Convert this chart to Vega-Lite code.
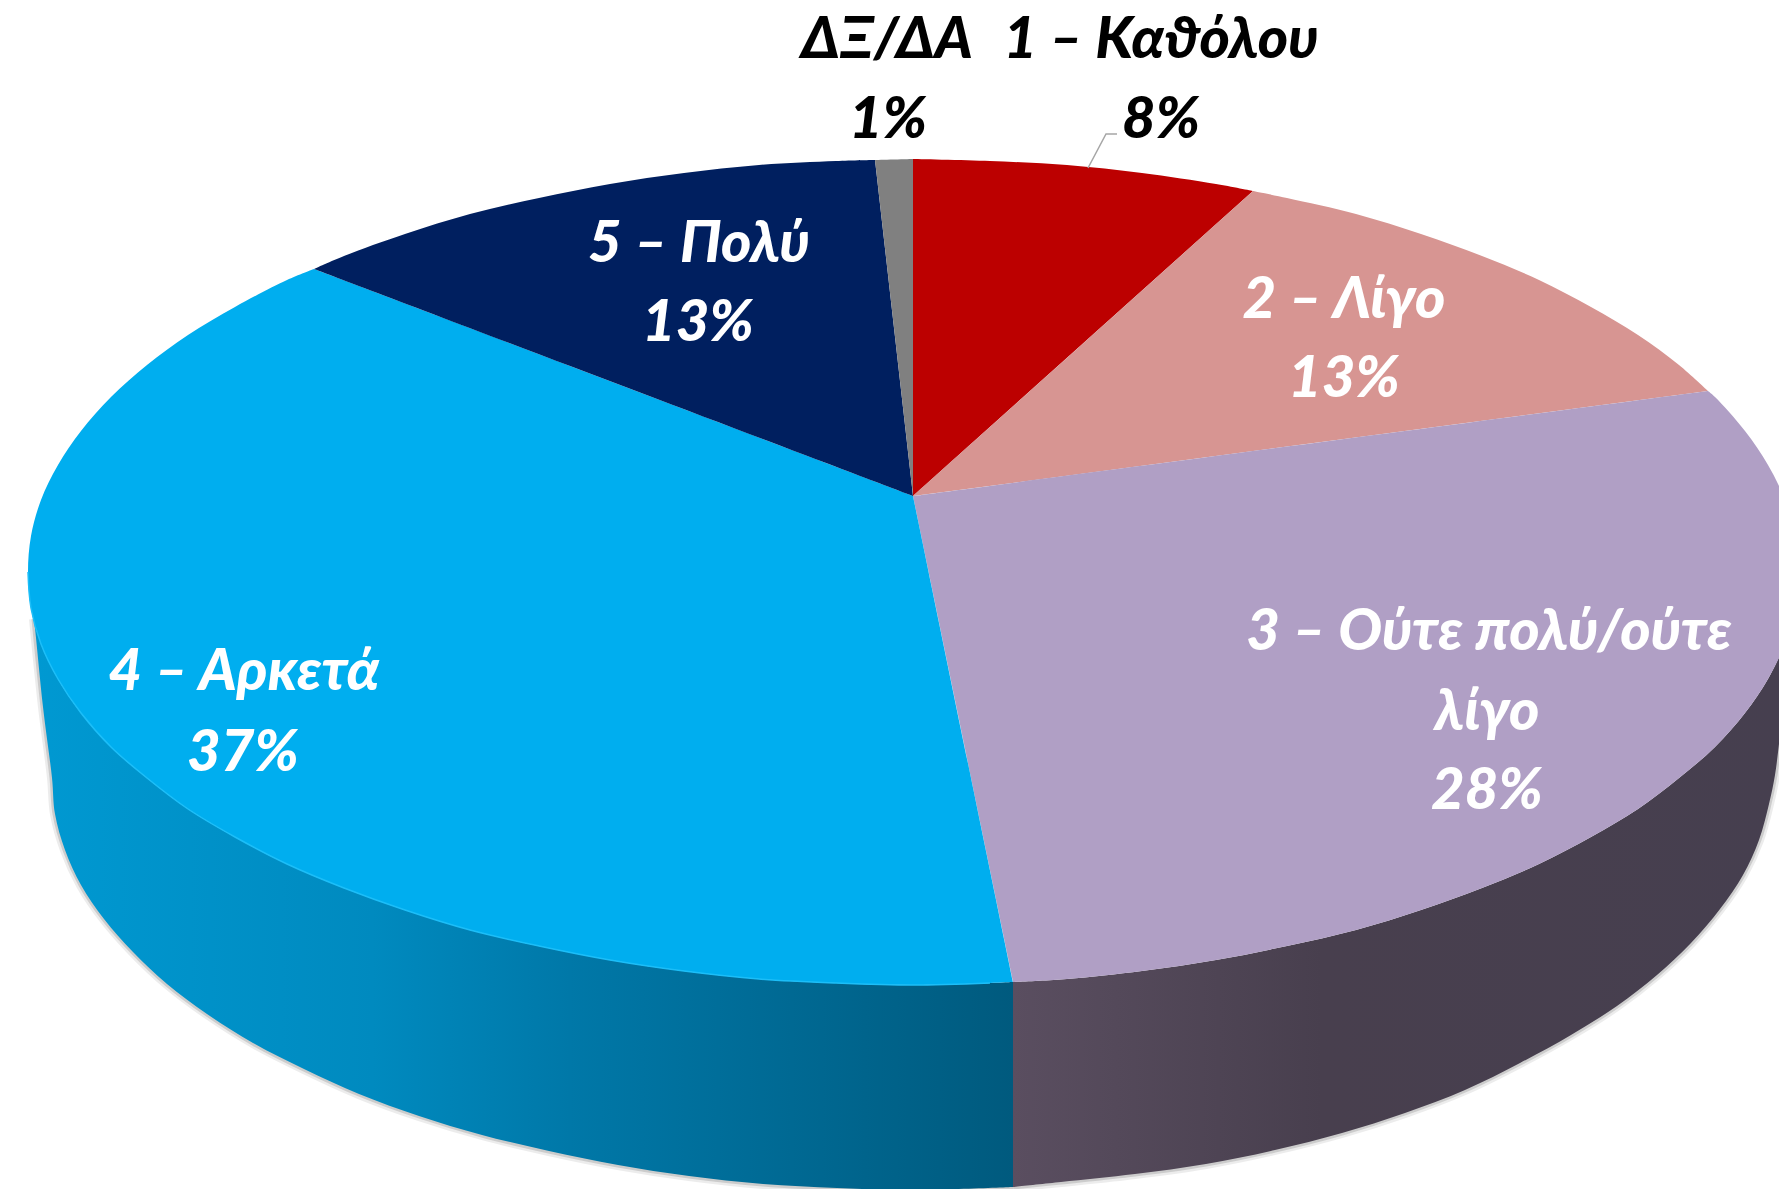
{"$schema":"https://vega.github.io/schema/vega-lite/v6.json","width":1779,"height":1189,"autosize":{"type":"fit","contains":"padding"},"padding":0,"background":"white","view":{"stroke":null},
"datasets":{"side":[
{"slice":"4","i":0,"x":1013,"y":982},{"slice":"4","i":0,"x":1013,"y":982},{"slice":"4","i":1,"x":990,"y":983},{"slice":"4","i":2,"x":913,"y":985},{"slice":"4","i":3,"x":836,"y":983},{"slice":"4","i":4,"x":759,"y":979},{"slice":"4","i":5,"x":684,"y":971},{"slice":"4","i":6,"x":610,"y":960},{"slice":"4","i":7,"x":539,"y":946},{"slice":"4","i":8,"x":470,"y":930},{"slice":"4","i":9,"x":405,"y":910},{"slice":"4","i":10,"x":344,"y":888},{"slice":"4","i":11,"x":287,"y":864},{"slice":"4","i":12,"x":235,"y":837},{"slice":"4","i":13,"x":188,"y":809},{"slice":"4","i":14,"x":147,"y":778},{"slice":"4","i":15,"x":111,"y":747},{"slice":"4","i":16,"x":81,"y":713},{"slice":"4","i":17,"x":58,"y":679},{"slice":"4","i":18,"x":41,"y":644},{"slice":"4","i":19,"x":31,"y":608},{"slice":"4","i":20,"x":28,"y":572},{"slice":"4","i":20,"x":28,"y":572},
{"slice":"4","part":"lower","i":21,"x":34,"y":619},{"slice":"4","part":"lower","i":22,"x":43,"y":707},{"slice":"4","part":"lower","i":23,"x":52,"y":778},{"slice":"4","part":"lower","i":24,"x":55,"y":814},{"slice":"4","part":"lower","i":25,"x":65,"y":850},{"slice":"4","part":"lower","i":26,"x":81,"y":885},{"slice":"4","part":"lower","i":27,"x":104,"y":919},{"slice":"4","part":"lower","i":28,"x":133,"y":952},{"slice":"4","part":"lower","i":29,"x":167,"y":984},{"slice":"4","part":"lower","i":30,"x":207,"y":1014},{"slice":"4","part":"lower","i":31,"x":253,"y":1043},{"slice":"4","part":"lower","i":32,"x":304,"y":1069},{"slice":"4","part":"lower","i":33,"x":359,"y":1094},{"slice":"4","part":"lower","i":34,"x":419,"y":1116},{"slice":"4","part":"lower","i":35,"x":482,"y":1135},{"slice":"4","part":"lower","i":36,"x":549,"y":1151},{"slice":"4","part":"lower","i":37,"x":618,"y":1165},{"slice":"4","part":"lower","i":38,"x":689,"y":1176},{"slice":"4","part":"lower","i":39,"x":763,"y":1184},{"slice":"4","part":"lower","i":40,"x":837,"y":1188},{"slice":"4","part":"lower","i":41,"x":912,"y":1190},{"slice":"4","part":"lower","i":42,"x":1013,"y":1187},{"slice":"4","part":"lower","i":42,"x":1013,"y":1187},
{"slice":"3","i":0,"x":1013,"y":982},{"slice":"3","i":0,"x":1013,"y":982},{"slice":"3","i":1,"x":1067,"y":979},{"slice":"3","i":2,"x":1142,"y":971},{"slice":"3","i":3,"x":1216,"y":960},{"slice":"3","i":4,"x":1287,"y":946},{"slice":"3","i":5,"x":1356,"y":930},{"slice":"3","i":6,"x":1421,"y":910},{"slice":"3","i":7,"x":1482,"y":888},{"slice":"3","i":8,"x":1539,"y":864},{"slice":"3","i":9,"x":1591,"y":837},{"slice":"3","i":10,"x":1638,"y":809},{"slice":"3","i":11,"x":1679,"y":778},{"slice":"3","i":12,"x":1715,"y":747},{"slice":"3","i":13,"x":1745,"y":713},{"slice":"3","i":14,"x":1768,"y":679},{"slice":"3","i":15,"x":1785,"y":644},{"slice":"3","i":15,"x":1785,"y":644},
{"slice":"3","part":"lower","i":16,"x":1783,"y":710},{"slice":"3","part":"lower","i":17,"x":1779,"y":744},{"slice":"3","part":"lower","i":18,"x":1775,"y":775},{"slice":"3","part":"lower","i":19,"x":1769,"y":804},{"slice":"3","part":"lower","i":20,"x":1759,"y":840},{"slice":"3","part":"lower","i":21,"x":1743,"y":875},{"slice":"3","part":"lower","i":22,"x":1720,"y":909},{"slice":"3","part":"lower","i":23,"x":1691,"y":943},{"slice":"3","part":"lower","i":24,"x":1657,"y":975},{"slice":"3","part":"lower","i":25,"x":1617,"y":1006},{"slice":"3","part":"lower","i":26,"x":1571,"y":1035},{"slice":"3","part":"lower","i":27,"x":1520,"y":1063},{"slice":"3","part":"lower","i":28,"x":1465,"y":1090},{"slice":"3","part":"lower","i":29,"x":1405,"y":1113},{"slice":"3","part":"lower","i":30,"x":1342,"y":1133},{"slice":"3","part":"lower","i":31,"x":1275,"y":1150},{"slice":"3","part":"lower","i":32,"x":1206,"y":1164},{"slice":"3","part":"lower","i":33,"x":1135,"y":1174},{"slice":"3","part":"lower","i":34,"x":1061,"y":1182},{"slice":"3","part":"lower","i":35,"x":1013,"y":1187},{"slice":"3","part":"lower","i":35,"x":1013,"y":1187}],
"top":[
{"slice":"1","i":0,"x":913,"y":496},{"slice":"1","i":0,"x":913,"y":496},{"slice":"1","i":1,"x":913,"y":159},{"slice":"1","i":1,"x":913,"y":159},{"slice":"1","i":2,"x":990,"y":161},{"slice":"1","i":3,"x":1067,"y":165},{"slice":"1","i":4,"x":1142,"y":173},{"slice":"1","i":5,"x":1216,"y":184},{"slice":"1","i":6,"x":1253,"y":191},{"slice":"1","i":6,"x":1253,"y":191},
{"slice":"2","i":0,"x":913,"y":496},{"slice":"2","i":0,"x":913,"y":496},{"slice":"2","i":1,"x":1253,"y":191},{"slice":"2","i":1,"x":1253,"y":191},{"slice":"2","i":2,"x":1287,"y":198},{"slice":"2","i":3,"x":1356,"y":214},{"slice":"2","i":4,"x":1421,"y":234},{"slice":"2","i":5,"x":1482,"y":256},{"slice":"2","i":6,"x":1539,"y":280},{"slice":"2","i":7,"x":1591,"y":307},{"slice":"2","i":8,"x":1638,"y":335},{"slice":"2","i":9,"x":1679,"y":365},{"slice":"2","i":10,"x":1708,"y":391},{"slice":"2","i":10,"x":1708,"y":391},
{"slice":"3","i":0,"x":913,"y":496},{"slice":"3","i":0,"x":913,"y":496},{"slice":"3","i":1,"x":1708,"y":391},{"slice":"3","i":1,"x":1708,"y":391},{"slice":"3","i":2,"x":1715,"y":397},{"slice":"3","i":3,"x":1745,"y":431},{"slice":"3","i":4,"x":1768,"y":465},{"slice":"3","i":5,"x":1785,"y":500},{"slice":"3","i":6,"x":1795,"y":536},{"slice":"3","i":7,"x":1798,"y":572},{"slice":"3","i":8,"x":1795,"y":608},{"slice":"3","i":9,"x":1785,"y":644},{"slice":"3","i":10,"x":1768,"y":679},{"slice":"3","i":11,"x":1745,"y":713},{"slice":"3","i":12,"x":1715,"y":747},{"slice":"3","i":13,"x":1679,"y":778},{"slice":"3","i":14,"x":1638,"y":809},{"slice":"3","i":15,"x":1591,"y":837},{"slice":"3","i":16,"x":1539,"y":864},{"slice":"3","i":17,"x":1482,"y":888},{"slice":"3","i":18,"x":1421,"y":910},{"slice":"3","i":19,"x":1356,"y":930},{"slice":"3","i":20,"x":1287,"y":946},{"slice":"3","i":21,"x":1216,"y":960},{"slice":"3","i":22,"x":1142,"y":971},{"slice":"3","i":23,"x":1067,"y":979},{"slice":"3","i":24,"x":1013,"y":982},{"slice":"3","i":24,"x":1013,"y":982},
{"slice":"4","i":0,"x":913,"y":496},{"slice":"4","i":0,"x":913,"y":496},{"slice":"4","i":1,"x":1013,"y":982},{"slice":"4","i":1,"x":1013,"y":982},{"slice":"4","i":2,"x":990,"y":983},{"slice":"4","i":3,"x":913,"y":985},{"slice":"4","i":4,"x":836,"y":983},{"slice":"4","i":5,"x":759,"y":979},{"slice":"4","i":6,"x":684,"y":971},{"slice":"4","i":7,"x":610,"y":960},{"slice":"4","i":8,"x":539,"y":946},{"slice":"4","i":9,"x":470,"y":930},{"slice":"4","i":10,"x":405,"y":910},{"slice":"4","i":11,"x":344,"y":888},{"slice":"4","i":12,"x":287,"y":864},{"slice":"4","i":13,"x":235,"y":837},{"slice":"4","i":14,"x":188,"y":809},{"slice":"4","i":15,"x":147,"y":778},{"slice":"4","i":16,"x":111,"y":747},{"slice":"4","i":17,"x":81,"y":713},{"slice":"4","i":18,"x":58,"y":679},{"slice":"4","i":19,"x":41,"y":644},{"slice":"4","i":20,"x":31,"y":608},{"slice":"4","i":21,"x":28,"y":572},{"slice":"4","i":22,"x":31,"y":536},{"slice":"4","i":23,"x":41,"y":500},{"slice":"4","i":24,"x":58,"y":465},{"slice":"4","i":25,"x":81,"y":431},{"slice":"4","i":26,"x":111,"y":397},{"slice":"4","i":27,"x":147,"y":365},{"slice":"4","i":28,"x":188,"y":335},{"slice":"4","i":29,"x":235,"y":307},{"slice":"4","i":30,"x":287,"y":280},{"slice":"4","i":31,"x":314,"y":269},{"slice":"4","i":31,"x":314,"y":269},
{"slice":"5","i":0,"x":913,"y":496},{"slice":"5","i":0,"x":913,"y":496},{"slice":"5","i":1,"x":314,"y":269},{"slice":"5","i":1,"x":314,"y":269},{"slice":"5","i":2,"x":344,"y":256},{"slice":"5","i":3,"x":405,"y":234},{"slice":"5","i":4,"x":470,"y":214},{"slice":"5","i":5,"x":539,"y":198},{"slice":"5","i":6,"x":610,"y":184},{"slice":"5","i":7,"x":684,"y":173},{"slice":"5","i":8,"x":759,"y":165},{"slice":"5","i":9,"x":836,"y":161},{"slice":"5","i":10,"x":875,"y":160},{"slice":"5","i":10,"x":875,"y":160},
{"slice":"ΔΞ/ΔΑ","i":0,"x":913,"y":496},{"slice":"ΔΞ/ΔΑ","i":0,"x":913,"y":496},{"slice":"ΔΞ/ΔΑ","i":1,"x":875,"y":160},{"slice":"ΔΞ/ΔΑ","i":1,"x":875,"y":160},{"slice":"ΔΞ/ΔΑ","i":2,"x":913,"y":159},{"slice":"ΔΞ/ΔΑ","i":2,"x":913,"y":159}],
"leader":[{"i":0,"x":1088,"y":168},{"i":1,"x":1106,"y":134},{"i":2,"x":1117,"y":134}],
"labels":[
{"text":"ΔΞ/ΔΑ","where":"outside","x":887,"y":58},{"text":"1%","where":"outside","x":888,"y":138},
{"text":"1 – Καϑόλου","where":"outside","x":1161,"y":58},{"text":"8%","where":"outside","x":1161,"y":138},
{"text":"2 – Λίγο","where":"inside","x":1344,"y":318},{"text":"13%","where":"inside","x":1344,"y":397},
{"text":"3 – Ούτε πολύ/ούτε","where":"inside","x":1489,"y":650},{"text":"λίγο","where":"inside","x":1487,"y":730},{"text":"28%","where":"inside","x":1487,"y":809},
{"text":"4 – Αρκετά","where":"inside","x":244,"y":690},{"text":"37%","where":"inside","x":243,"y":771},
{"text":"5 – Πολύ","where":"inside","x":699,"y":262},{"text":"13%","where":"inside","x":698,"y":341}]},
"encoding":{"x":{"field":"x","type":"quantitative","axis":null,"scale":{"domain":[0,1779],"nice":false,"zero":false}},"y":{"field":"y","type":"quantitative","axis":null,"scale":{"domain":[1189,0],"nice":false,"zero":false}}},
"resolve":{"scale":{"color":"independent"}},
"layer":[
{"data":{"name":"side"},"transform":[{"filter":"datum.part==='lower'"}],"mark":{"type":"line","clip":true,"interpolate":"catmull-rom","stroke":"#808080","strokeWidth":10,"strokeOpacity":0.15},"encoding":{"detail":{"field":"slice"},"order":{"field":"i"}}},
{"data":{"name":"side"},"transform":[{"filter":"datum.part==='lower'"}],"mark":{"type":"line","clip":true,"interpolate":"catmull-rom","stroke":"#808080","strokeWidth":5,"strokeOpacity":0.3},"encoding":{"detail":{"field":"slice"},"order":{"field":"i"}}},
{"data":{"name":"side"},"transform":[{"filter":"datum.slice==='4'"}],"mark":{"type":"line","clip":true,"interpolate":"catmull-rom","strokeWidth":0,"fill":{"gradient":"linear","x1":0,"y1":0,"x2":1,"y2":0,"stops":[{"offset":0,"color":"#0099d2"},{"offset":0.35,"color":"#008abf"},{"offset":0.55,"color":"#0078a8"},{"offset":1,"color":"#005a7e"}]}},"encoding":{"order":{"field":"i"}}},
{"data":{"name":"side"},"transform":[{"filter":"datum.slice==='3'"}],"mark":{"type":"line","clip":true,"interpolate":"catmull-rom","strokeWidth":0,"fill":{"gradient":"linear","x1":0,"y1":0,"x2":1,"y2":0,"stops":[{"offset":0,"color":"#5a4e60"},{"offset":0.4,"color":"#483f4e"},{"offset":1,"color":"#463f4f"}]}},"encoding":{"order":{"field":"i"}}},
{"data":{"name":"top"},"mark":{"type":"line","clip":true,"filled":true,"interpolate":"catmull-rom","strokeWidth":0},"encoding":{"color":{"field":"slice","type":"nominal","legend":null,"scale":{"domain":["1","2","3","4","5","ΔΞ/ΔΑ"],"range":["#BC0000","#D79592","#B09FC5","#00AEEF","#001F5F","#808080"]}},"order":{"field":"i"}}},
{"data":{"name":"top"},"transform":[{"filter":"datum.slice==='4' && datum.i>=2 && datum.i<=21"}],"mark":{"type":"line","clip":true,"interpolate":"catmull-rom","stroke":"#1CBEF8","strokeWidth":1.5},"encoding":{"order":{"field":"i"}}},
{"data":{"name":"leader"},"mark":{"type":"line","stroke":"#A6A6A6","strokeWidth":1.5},"encoding":{"order":{"field":"i"}}},
{"data":{"name":"labels"},"mark":{"type":"text","font":"Lato","fontSize":58,"fontWeight":900,"fontStyle":"italic","align":"center","baseline":"alphabetic"},"encoding":{"text":{"field":"text"},"color":{"field":"where","type":"nominal","legend":null,"scale":{"domain":["outside","inside"],"range":["#000000","#FFFFFF"]}}}}
]}
